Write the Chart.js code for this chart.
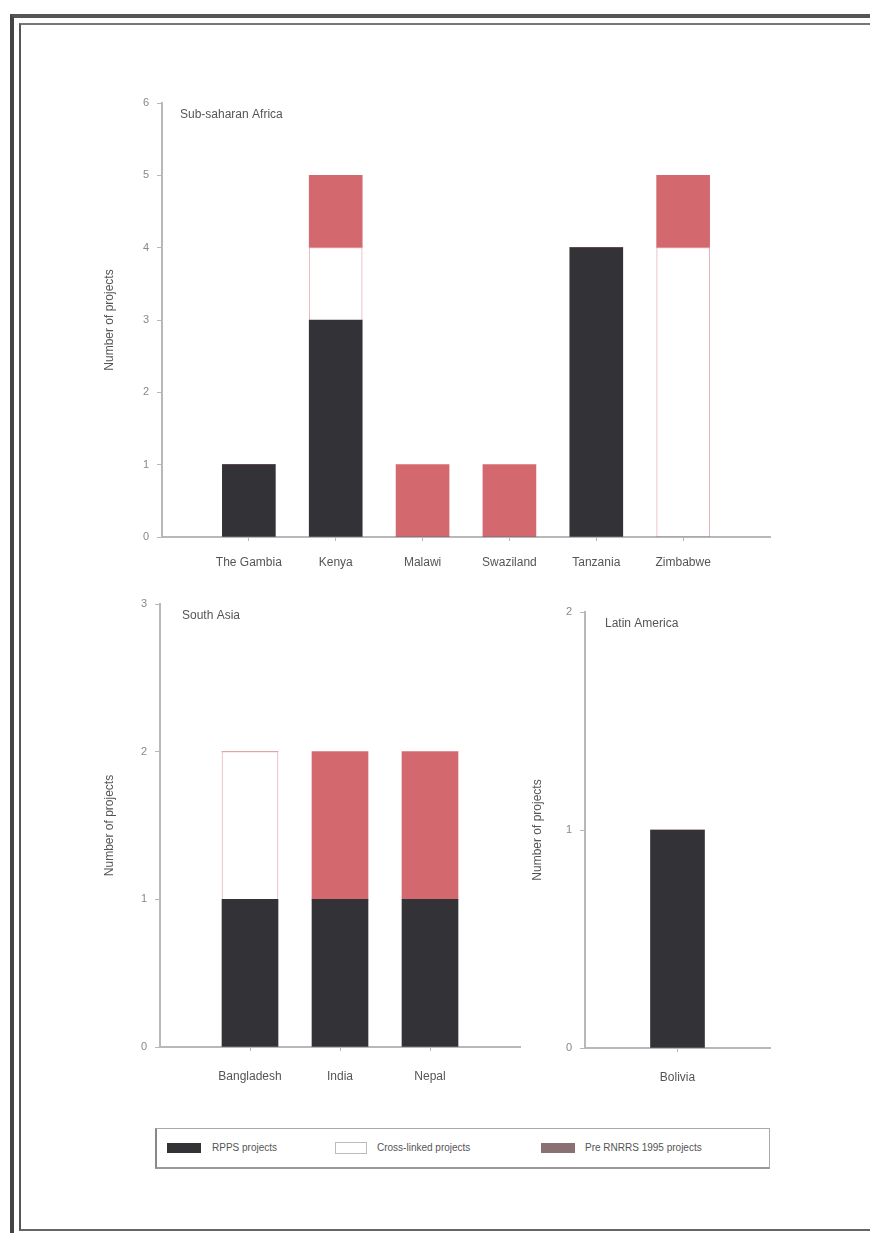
<!DOCTYPE html>
<html>
<head>
<meta charset="utf-8">
<script src="https://cdn.jsdelivr.net/npm/chart.js@4.4.1/dist/chart.umd.min.js"></script>
<style>
  html, body { margin: 0; padding: 0; background: #fff; }
  body { width: 870px; height: 1233px; position: relative; overflow: hidden; font-family: "Liberation Sans", Arial, sans-serif; }
  .frameOuter { position: absolute; left: 10px; top: 14px; width: 880px; height: 1218px; border-left: 4px solid #444; border-top: 4px solid #555; border-bottom: 3px solid #555; }
  .frameInner { position: absolute; left: 19px; top: 23px; width: 880px; height: 1204px; border-left: 2px solid #555; border-top: 2px solid #777; border-bottom: 2px solid #666; }
  .box { position: absolute; }
  .legend { position: absolute; left: 155px; top: 1128px; width: 612px; height: 38px; border: 1px solid #aaa; border-bottom: 2px solid #999; border-left: 2px solid #888; background: #fff; font-size: 10px; color: #555; }
  .item { position: absolute; top: 12px; height: 14px; line-height: 14px; white-space: nowrap; }
  .sw { position: absolute; top: 2px; width: 34px; height: 10px; }
</style>
</head>
<body>
<div class="frameOuter"></div>
<div class="frameInner"></div>
<div class="box" style="left:100px;top:88px;width:690px;height:492px;"><canvas id="c1"></canvas></div>
<div class="box" style="left:100px;top:588px;width:440px;height:502px;"><canvas id="c2"></canvas></div>
<div class="box" style="left:528px;top:588px;width:262px;height:502px;"><canvas id="c3"></canvas></div>
<div class="legend">
  <div class="item" style="left:10px;"><div class="sw" style="left:0;background:#333336;"></div><span style="position:absolute;left:45px;">RPPS projects</span></div>
  <div class="item" style="left:178px;"><div class="sw" style="left:0;width:30px;background:#fff;border:1px solid #bbb;top:1px;"></div><span style="position:absolute;left:42px;">Cross-linked projects</span></div>
  <div class="item" style="left:384px;"><div class="sw" style="left:0;background:#8a7072;"></div><span style="position:absolute;left:44px;">Pre RNRRS 1995 projects</span></div>
</div>
<script>
// ---- Data ----
const seriesNames = ["RPPS projects", "Cross-linked projects", "Pre RNRRS 1995 projects"];

const africaCategories = ["The Gambia", "Kenya", "Malawi", "Swaziland", "Tanzania", "Zimbabwe"];
const africaRPPS  = [1, 3, 0, 0, 4, 0];
const africaCross = [0, 1, 0, 0, 0, 4];
const africaPre   = [0, 1, 1, 1, 0, 1];
const africaTicks = [0, 1, 2, 3, 4, 5, 6];

const asiaCategories = ["Bangladesh", "India", "Nepal"];
const asiaRPPS  = [1, 1, 1];
const asiaCross = [1, 0, 0];
const asiaPre   = [0, 1, 1];
const asiaTicks = [0, 1, 2, 3];

const latamCategories = ["Bolivia"];
const latamRPPS  = [1];
const latamCross = [0];
const latamPre   = [0];
const latamTicks = [0, 1, 2];

const panelTitles = ["Sub-saharan Africa", "South Asia", "Latin America"];
const yTitle = "Number of projects";

// ---- Styles ----
const colRPPS = "#333337";
const colCross = "#ffffff";
const colPre = "#d4686f";
const axisCol = "#b8b8bc";
const textCol = "#555";
const FONT = "'Liberation Sans', Arial, sans-serif";

function pts(arr) { return arr.map((v, i) => ({ x: i + 1, y: v })); }

const panelTitlePlugin = {
  id: "panelTitle",
  afterDraw(chart, args, opts) {
    const { ctx, chartArea } = chart;
    ctx.save();
    ctx.font = "12px " + FONT;
    ctx.fillStyle = "#555";
    ctx.textBaseline = "middle";
    ctx.fillText(opts.text, chartArea.left + opts.dx, chartArea.top + opts.dy);
    ctx.restore();
  }
};

function makeChart(id, cats, rpps, cross, pre, ticks, title, cfg) {
  const n = cats.length;
  new Chart(document.getElementById(id), {
    type: "bar",
    data: {
      datasets: [
        { label: seriesNames[0], data: pts(rpps), backgroundColor: colRPPS, borderWidth: 0, barThickness: cfg.bar },
        { label: seriesNames[1], data: pts(cross), backgroundColor: colCross, borderColor: "#e6b4b6", borderWidth: 1, barThickness: cfg.bar },
        { label: seriesNames[2], data: pts(pre), backgroundColor: colPre, borderWidth: 0, barThickness: cfg.bar }
      ]
    },
    options: {
      responsive: true,
      maintainAspectRatio: false,
      animation: false,
      layout: { padding: { top: cfg.pt, right: cfg.pr, left: 0, bottom: 0 } },
      plugins: {
        legend: { display: false },
        tooltip: { enabled: false },
        panelTitle: { text: title, dx: cfg.tx, dy: cfg.ty }
      },
      scales: {
        x: {
          type: "linear",
          stacked: true,
          offset: false,
          min: 0,
          max: n + 1,
          afterBuildTicks(s) { s.ticks = cats.map((c, i) => ({ value: i + 1 })); },
          afterFit(s) { s.height = cfg.xh; },
          ticks: {
            callback: (v) => cats[v - 1] || "",
            color: textCol, font: { family: FONT, size: 12 }, padding: cfg.xp, maxRotation: 0, autoSkip: false
          },
          grid: { display: true, offset: false, drawOnChartArea: false, drawTicks: true, tickLength: 4, color: axisCol },
          border: { display: true, color: axisCol, width: 2 }
        },
        y: {
          stacked: true,
          min: 0,
          max: ticks[ticks.length - 1],
          afterBuildTicks(s) { s.ticks = ticks.map(v => ({ value: v })); },
          afterFit(s) { s.width = cfg.yw; },
          ticks: { color: "#888", font: { family: FONT, size: 11 }, padding: 8 },
          grid: { display: true, drawOnChartArea: false, drawTicks: true, tickLength: 5, color: axisCol },
          border: { display: true, color: axisCol, width: 2 },
          title: { display: true, text: yTitle, color: textCol, font: { family: FONT, size: 12 }, padding: { top: 2, bottom: 0 } }
        }
      }
    },
    plugins: [panelTitlePlugin]
  });
}

makeChart("c1", africaCategories, africaRPPS, africaCross, africaPre, africaTicks, panelTitles[0],
  { bar: 53, pt: 15, pr: 20, xh: 43, yw: 62, tx: 18, ty: 12, xp: 14 });
makeChart("c2", asiaCategories, asiaRPPS, asiaCross, asiaPre, asiaTicks, panelTitles[1],
  { bar: 56, pt: 16, pr: 20, xh: 43, yw: 60, tx: 22, ty: 12, xp: 18 });
makeChart("c3", latamCategories, latamRPPS, latamCross, latamPre, latamTicks, panelTitles[2],
  { bar: 54, pt: 24, pr: 20, xh: 42, yw: 57, tx: 20, ty: 12, xp: 18 });
</script>
</body>
</html>
